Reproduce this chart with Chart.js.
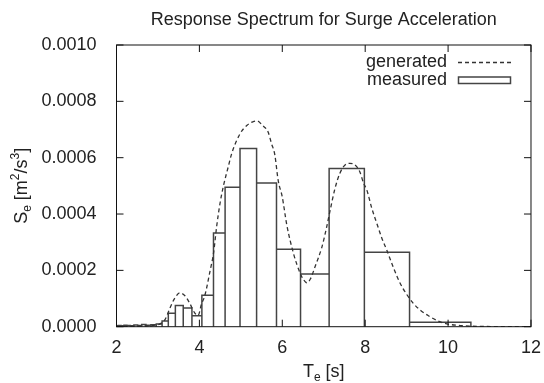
<!DOCTYPE html>
<html>
<head>
<meta charset="utf-8">
<script src="https://cdn.jsdelivr.net/npm/chart.js@4.4.1/dist/chart.umd.min.js"></script>
<style>
  html, body { margin: 0; padding: 0; background: #fff; }
  canvas { display: block; }
</style>
</head>
<body>
<canvas id="spectrum" width="544" height="383"></canvas>
<script>
// measured spectrum: bin edges in Te [s] and bin heights in m^2/s^3
const measuredEdges = [2.00, 2.04, 2.11, 2.18, 2.25, 2.33, 2.42, 2.51, 2.61, 2.71, 2.83, 2.96,
  3.10, 3.25, 3.42, 3.61, 3.82, 4.06, 4.34, 4.62, 4.98, 5.38, 5.86, 6.44, 7.13, 7.98, 9.07, 10.55];
const measuredValues = [0.000003, 0.000004, 0.000003, 0.000005, 0.000004, 0.000003, 0.000006,
  0.000004, 0.000008, 0.000005, 0.000007, 0.000010, 0.000020, 0.000048, 0.000075, 0.000066,
  0.000039, 0.000112, 0.000333, 0.000495, 0.000633, 0.000510, 0.000275, 0.000187, 0.000562,
  0.000264, 0.000016];

// generated spectrum (dashed curve)
const generatedT = [2.0, 2.5, 2.9, 3.05, 3.17, 3.29, 3.40, 3.53, 3.65, 3.76, 3.89, 3.97, 4.05,
  4.13, 4.26, 4.34, 4.42, 4.50, 4.58, 4.70, 4.78, 4.98, 5.15, 5.30, 5.40, 5.52, 5.66, 5.74, 5.82,
  5.90, 6.00, 6.11, 6.27, 6.43, 6.52, 6.59, 6.68, 6.79, 6.95, 7.05, 7.15, 7.27, 7.39, 7.52, 7.63,
  7.75, 7.87, 7.96, 8.04, 8.16, 8.28, 8.40, 8.52, 8.68, 8.84, 9.00, 9.16, 9.36, 9.56, 9.76, 9.97,
  10.3, 10.8, 12.0];
const generatedValues = [0.000001, 0.000002, 0.000005, 0.000010, 0.000025, 0.000066, 0.000100,
  0.000120, 0.000110, 0.000085, 0.000048, 0.000040, 0.000080, 0.000110, 0.000200, 0.000260,
  0.000360, 0.000440, 0.000500, 0.000570, 0.000615, 0.000685, 0.000715, 0.000728, 0.000730,
  0.000715, 0.000690, 0.000650, 0.000610, 0.000520, 0.000460, 0.000360, 0.000260, 0.000190,
  0.000165, 0.000156, 0.000170, 0.000213, 0.000280, 0.000340, 0.000410, 0.000490, 0.000545,
  0.000575, 0.000580, 0.000575, 0.000550, 0.000510, 0.000485, 0.000420, 0.000367, 0.000315,
  0.000272, 0.000210, 0.000155, 0.000115, 0.000083, 0.000055, 0.000036, 0.000020, 0.000010,
  0.000004, 0.000001, 0.0];

const xTickStep = 2;
const yTickStep = 0.0002;

const FONT = '"Liberation Sans", Arial, "DejaVu Sans", sans-serif';
const INK = '#222';

// outline of every box, traced as one polyline
const boxOutline = [];
measuredValues.forEach((v, i) => {
  const x0 = measuredEdges[i], x1 = measuredEdges[i + 1];
  boxOutline.push({ x: x0, y: 0 }, { x: x0, y: v }, { x: x1, y: v }, { x: x1, y: 0 });
});
const generatedPoints = generatedT.map((t, i) => ({ x: t, y: generatedValues[i] }));

// text with sub/superscripts, centred on (cx, cy)
function richText(ctx, parts, cx, cy) {
  const big = '18px ' + FONT, small = '12px ' + FONT;
  let w = 0;
  parts.forEach(p => { ctx.font = p.sub || p.sup ? small : big; w += ctx.measureText(p.t).width; });
  let x = cx - w / 2;
  ctx.textAlign = 'left';
  ctx.textBaseline = 'alphabetic';
  parts.forEach(p => {
    ctx.font = p.sub || p.sup ? small : big;
    const dy = p.sub ? 4 : p.sup ? -8 : 0;
    ctx.fillText(p.t, x, cy + 6 + dy);
    x += ctx.measureText(p.t).width;
  });
}

const gnuplotFrame = {
  id: 'gnuplotFrame',
  afterDraw(chart) {
    const { ctx, chartArea: a, scales } = chart;
    const x = scales.x, y = scales.y;
    ctx.save();
    ctx.strokeStyle = '#111';
    ctx.lineWidth = 1;
    ctx.setLineDash([]);
    ctx.strokeRect(a.left, a.top, a.right - a.left, a.bottom - a.top);
    ctx.beginPath();
    x.ticks.forEach(t => {
      const px = x.getPixelForValue(t.value);
      ctx.moveTo(px, a.bottom); ctx.lineTo(px, a.bottom - 7);
      ctx.moveTo(px, a.top); ctx.lineTo(px, a.top + 7);
    });
    y.ticks.forEach(t => {
      const py = y.getPixelForValue(t.value);
      ctx.moveTo(a.left, py); ctx.lineTo(a.left + 7, py);
      ctx.moveTo(a.right, py); ctx.lineTo(a.right - 7, py);
    });
    ctx.stroke();

    ctx.fillStyle = INK;
    ctx.font = '18px ' + FONT;
    ctx.textAlign = 'center';
    ctx.textBaseline = 'middle';
    ctx.fillText('Response Spectrum for Surge Acceleration', (a.left + a.right) / 2, 20);

    richText(ctx, [{ t: 'T' }, { t: 'e', sub: true }, { t: ' [s]' }], (a.left + a.right) / 2, 371);

    ctx.save();
    ctx.translate(21, (a.top + a.bottom) / 2);
    ctx.rotate(-Math.PI / 2);
    richText(ctx, [{ t: 'S' }, { t: 'e', sub: true }, { t: ' [m' }, { t: '2', sup: true },
      { t: '/s' }, { t: '3', sup: true }, { t: ']' }], 0, 0);
    ctx.restore();

    // key
    ctx.font = '18px ' + FONT;
    ctx.textAlign = 'right';
    ctx.textBaseline = 'middle';
    ctx.fillText('generated', 447, 62);
    ctx.fillText('measured', 447, 80.5);
    ctx.strokeStyle = '#333';
    ctx.lineWidth = 1.3;
    ctx.setLineDash([4, 3]);
    ctx.beginPath();
    ctx.moveTo(458, 62.5); ctx.lineTo(511, 62.5);
    ctx.stroke();
    ctx.setLineDash([]);
    ctx.strokeStyle = '#444';
    ctx.lineWidth = 1.5;
    ctx.strokeRect(458.5, 77, 52, 6.5);
    ctx.restore();
  }
};

new Chart(document.getElementById('spectrum'), {
  type: 'line',
  data: {
    datasets: [
      {
        label: 'generated',
        data: generatedPoints,
        borderColor: '#333',
        borderWidth: 1.3,
        borderDash: [4, 3],
        pointRadius: 0,
        cubicInterpolationMode: 'monotone',
        fill: false
      },
      {
        label: 'measured',
        data: boxOutline,
        borderColor: '#444',
        borderWidth: 1.5,
        pointRadius: 0,
        tension: 0,
        fill: false
      }
    ]
  },
  options: {
    responsive: false,
    animation: false,
    devicePixelRatio: 1,
    layout: { padding: { top: 45, right: 13, left: 0, bottom: 0 } },
    plugins: { legend: { display: false }, title: { display: false }, tooltip: { enabled: false } },
    scales: {
      x: {
        type: 'linear',
        min: 2,
        max: 12,
        grid: { display: false },
        border: { display: false },
        ticks: {
          stepSize: xTickStep,
          maxRotation: 0,
          autoSkip: false,
          padding: 3,
          color: INK,
          font: { family: FONT, size: 18 }
        },
        afterFit: s => { s.height = 56.3; }
      },
      y: {
        min: 0,
        max: 0.001,
        grid: { display: false },
        border: { display: false },
        ticks: {
          stepSize: yTickStep,
          autoSkip: false,
          padding: 12,
          color: INK,
          font: { family: FONT, size: 18 },
          callback: v => v.toFixed(4)
        },
        afterFit: s => { s.width = 116.5; }
      }
    }
  },
  plugins: [gnuplotFrame]
});
</script>
</body>
</html>
